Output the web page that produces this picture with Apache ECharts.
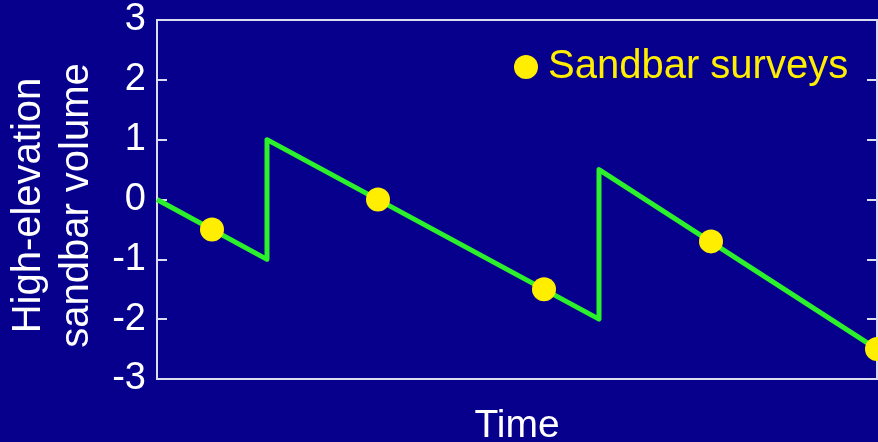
<!DOCTYPE html>
<html>
<head>
<meta charset="utf-8">
<script src="https://cdn.jsdelivr.net/npm/echarts@6/dist/echarts.min.js"></script>
<style>
  html, body { margin: 0; padding: 0; background: #06008c; }
  #Chart { width: 878px; height: 442px; }
</style>
</head>
<body>
<div id="Chart"></div>
<script>
  // conceptual model: volume drops between floods, jumps up at each flood
  const lineTime = [0, 11, 11, 44.2, 44.2, 72]
  const lineVolume = [0, -1, 1, -2, 0.5, -2.5]
  // survey dates and measured volumes
  const surveyTime = [5.5, 22.1, 38.7, 55.4, 72]
  const surveyVolume = [-0.5, 0, -1.5, -0.7, -2.5]
  const yMin = -3, yMax = 3, yStep = 1

  const font = 'Liberation Sans, Arial, sans-serif'
  const axisColor = '#dcdcf0'

  var Chart = echarts.init(document.getElementById('Chart'))
  Chart.setOption({
    backgroundColor: '#06008c',
    animation: false,
    grid: {
      left: 157, right: 1, top: 20, bottom: 63,
      outerBoundsMode: 'none',
      show: true, borderColor: axisColor, borderWidth: 2,
      backgroundColor: 'transparent'
    },
    legend: {
      data: ['Sandbar surveys'],
      left: 509, top: 42,
      icon: 'circle',
      itemWidth: 24, itemHeight: 24,
      textStyle: { color: '#ffee00', fontSize: 40, fontFamily: font, padding: [0, 0, 0, 5] }
    },
    xAxis: {
      type: 'value', min: 0, max: 72,
      name: 'Time', nameLocation: 'middle', nameGap: 28,
      nameTextStyle: { color: '#ffffff', fontSize: 39, fontFamily: font },
      axisLine: { show: true, onZero: false, lineStyle: { color: axisColor, width: 2 } },
      axisTick: { show: false },
      axisLabel: { show: false },
      splitLine: { show: false }
    },
    yAxis: [{
      type: 'value', min: yMin, max: yMax, interval: yStep,
      name: 'High-elevation\nsandbar volume', nameLocation: 'middle', nameGap: 52,
      nameTextStyle: { color: '#ffffff', fontSize: 40, lineHeight: 48, fontFamily: font, padding: [0, 12, 0, 0] },
      axisLine: { show: true, lineStyle: { color: axisColor, width: 2 } },
      axisTick: { show: true, inside: true, length: 10, lineStyle: { color: axisColor, width: 2 } },
      axisLabel: { color: '#ffffff', fontSize: 38, fontFamily: font, margin: 11 },
      splitLine: { show: false }
    }, {
      type: 'value', min: yMin, max: yMax, interval: yStep, position: 'right',
      axisLine: { show: true, lineStyle: { color: axisColor, width: 2 } },
      axisTick: { show: true, inside: true, length: 10, lineStyle: { color: axisColor, width: 2 } },
      axisLabel: { show: false },
      splitLine: { show: false }
    }],
    series: [{
      name: 'Model',
      type: 'line',
      data: lineTime.map((t, i) => [t, lineVolume[i]]),
      symbol: 'none',
      lineStyle: { color: '#2cf02c', width: 5, join: 'round' },
      z: 2
    }, {
      name: 'Sandbar surveys',
      type: 'scatter',
      data: surveyTime.map((t, i) => [t, surveyVolume[i]]),
      symbol: 'circle',
      symbolSize: 24,
      itemStyle: { color: '#ffee00', opacity: 1 },
      clip: false,
      z: 3
    }]
  })
</script>
</body>
</html>
